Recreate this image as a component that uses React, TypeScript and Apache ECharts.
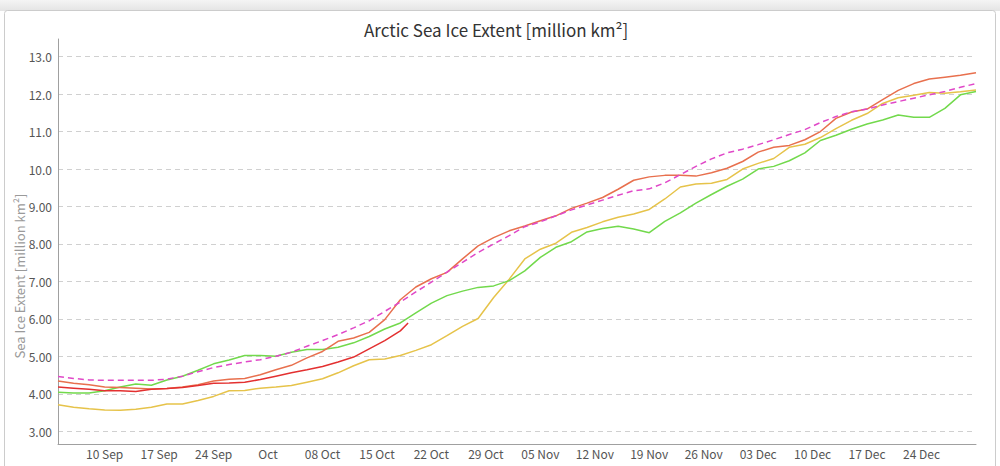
import React, { useEffect, useRef } from "react";
import * as echarts from "echarts";

// ---- axis categories (one per day, 04 Sep .. 31 Dec) ----
const MONTHS = ["Jan", "Feb", "Mar", "Apr", "May", "Jun", "Jul", "Aug", "Sep", "Oct", "Nov", "Dec"];
const START = Date.UTC(2019, 8, 4);
const days: string[] = [];
for (let i = 0; i <= 118; i++) {
  const d = new Date(START + i * 86400000);
  days.push(String(d.getUTCDate()).padStart(2, "0") + " " + MONTHS[d.getUTCMonth()]);
}
const xTickLabels = [
  "10 Sep", "17 Sep", "24 Sep", "01 Oct", "08 Oct", "15 Oct", "22 Oct", "29 Oct",
  "05 Nov", "12 Nov", "19 Nov", "26 Nov", "03 Dec", "10 Dec", "17 Dec", "24 Dec",
];
const yTicks = [3, 4, 5, 6, 7, 8, 9, 10, 11, 12, 13];

// sample dates: every second day
const sampleDays = days.filter((_, i) => i % 2 === 0);

// ---- series values (million km²), read at sampleDays ----
const average = [
  4.46, 4.41, 4.37, 4.36, 4.36, 4.36, 4.36, 4.39, 4.47, 4.59, 4.70, 4.78, 4.85,
  4.91, 5.00, 5.11, 5.27, 5.42, 5.58, 5.76, 5.95, 6.20, 6.45, 6.72, 6.98, 7.25,
  7.51, 7.77, 8.00, 8.22, 8.46, 8.59, 8.75, 8.91, 9.04, 9.17, 9.30, 9.42, 9.47,
  9.63, 9.85, 10.07, 10.27, 10.43, 10.53, 10.65, 10.78, 10.92, 11.05, 11.24, 11.40,
  11.53, 11.60, 11.71, 11.80, 11.89, 11.98, 12.07, 12.18, 12.28,
];
const yearOrange = [
  4.34, 4.28, 4.24, 4.18, 4.17, 4.15, 4.13, 4.14, 4.18, 4.24, 4.34, 4.39, 4.41,
  4.51, 4.64, 4.76, 4.96, 5.13, 5.40, 5.49, 5.64, 5.98, 6.51, 6.85, 7.07, 7.24,
  7.60, 7.95, 8.17, 8.35, 8.48, 8.62, 8.75, 8.95, 9.09, 9.24, 9.46, 9.70, 9.79,
  9.83, 9.83, 9.81, 9.90, 10.02, 10.20, 10.45, 10.58, 10.63, 10.78, 11.00, 11.35,
  11.52, 11.60, 11.85, 12.10, 12.28, 12.40, 12.45, 12.50, 12.57,
];
const yearGreen = [
  4.04, 4.02, 4.02, 4.08, 4.18, 4.26, 4.23, 4.37, 4.47, 4.63, 4.80, 4.90, 5.02,
  5.02, 5.00, 5.11, 5.18, 5.18, 5.24, 5.36, 5.53, 5.73, 5.89, 6.16, 6.42, 6.62,
  6.74, 6.84, 6.88, 7.02, 7.28, 7.64, 7.91, 8.06, 8.32, 8.41, 8.47, 8.40, 8.30,
  8.60, 8.83, 9.09, 9.32, 9.54, 9.73, 10.00, 10.07, 10.22, 10.43, 10.76, 10.90,
  11.06, 11.20, 11.31, 11.44, 11.38, 11.38, 11.62, 11.98, 12.07,
];
const yearYellow = [
  3.71, 3.64, 3.60, 3.57, 3.56, 3.59, 3.64, 3.73, 3.73, 3.82, 3.93, 4.08, 4.09,
  4.15, 4.18, 4.22, 4.31, 4.40, 4.56, 4.75, 4.91, 4.93, 5.02, 5.16, 5.31, 5.55,
  5.80, 6.01, 6.57, 7.06, 7.60, 7.86, 8.02, 8.31, 8.44, 8.59, 8.71, 8.80, 8.92,
  9.20, 9.52, 9.60, 9.62, 9.72, 10.00, 10.15, 10.28, 10.58, 10.66, 10.84, 11.08,
  11.30, 11.48, 11.75, 11.90, 11.97, 12.04, 12.02, 12.06, 12.11,
];
// current year: ends 19 Oct
const currentDays = sampleDays.slice(0, 23).concat([days[45]]);
const current = [
  4.18, 4.15, 4.12, 4.08, 4.08, 4.06, 4.12, 4.14, 4.17, 4.22, 4.28, 4.29, 4.31,
  4.38, 4.47, 4.56, 4.64, 4.73, 4.85, 4.98, 5.20, 5.42, 5.68, 5.89,
];

const pairs = (xs: string[], vs: number[]) => vs.map((v, i) => [xs[i], v]);
const FONT = "'Noto Sans CJK JP', 'Noto Sans', sans-serif";

export default function App() {
  const ref = useRef<HTMLDivElement>(null);
  useEffect(() => {
    if (!ref.current) return;
    const chart = echarts.init(ref.current, undefined, { renderer: "svg" });
    const line = (name: string, color: string, data: any[], dashed = false) => ({
      name,
      type: "line",
      data,
      symbol: "none",
      smooth: false,
      lineStyle: { color, width: 1.5, type: dashed ? [6, 4] : "solid" },
      itemStyle: { color },
      silent: true,
    });
    chart.setOption({
      animation: false,
      backgroundColor: "#ffffff",
      textStyle: { fontFamily: FONT },
      title: {
        text: "Arctic Sea Ice Extent [million km²]",
        left: 359,
        top: 16,
        textStyle: { fontFamily: FONT, fontSize: 17, fontWeight: "normal", color: "#333333" },
      },
      graphic: [
        {
          type: "rect",
          z: -10,
          silent: true,
          shape: { x: 0, y: 0, width: 1000, height: 11 },
          style: {
            fill: {
              type: "linear", x: 0, y: 0, x2: 0, y2: 1,
              colorStops: [{ offset: 0, color: "#f4f4f4" }, { offset: 1, color: "#e4e4e4" }],
            },
          },
        },
        {
          type: "rect",
          z: -10,
          silent: true,
          shape: { x: 4.5, y: 10.5, width: 991, height: 470, r: 3 },
          style: { fill: "transparent", stroke: "#cccccc", lineWidth: 1 },
        },
        {
          type: "text",
          silent: true,
          x: 19,
          y: 276,
          rotation: Math.PI / 2,
          style: {
            text: "Sea Ice Extent [million km²]",
            fontFamily: FONT,
            fontSize: 13,
            fill: "#9a9a9a",
            align: "center",
            verticalAlign: "middle",
          },
        },
      ],
      grid: { left: 58, right: 24, top: 39, bottom: 22, containLabel: false },
      xAxis: {
        type: "category",
        data: days,
        boundaryGap: false,
        axisLine: { show: true, lineStyle: { color: "#a0a0a0", width: 1 } },
        axisTick: { show: false },
        splitLine: { show: false },
        axisLabel: {
          interval: (_i: number, v: string) => xTickLabels.includes(v),
          formatter: (v: string) => (v === "01 Oct" ? "Oct" : v),
          color: "#555555",
          fontSize: 12,
          fontFamily: FONT,
          margin: 3,
        },
      },
      yAxis: {
        type: "value",
        min: 2.66,
        max: 13.47,
        splitNumber: 10,
        minInterval: 1,
        maxInterval: 1,
        axisLine: { show: true, lineStyle: { color: "#a0a0a0", width: 1 } },
        axisTick: { show: false },
        splitLine: {
          show: true,
          showMinLine: false,
          showMaxLine: false,
          lineStyle: { color: "#d0d0d0", type: [5, 4], width: 1 },
        },
        axisLabel: {
          showMinLabel: false,
          showMaxLabel: false,
          color: "#555555",
          fontSize: 12,
          fontFamily: FONT,
          margin: 6,
          formatter: (v: number) =>
            yTicks.includes(Math.round(v * 100) / 100) ? (v >= 10 ? v.toFixed(1) : v.toFixed(2)) : "",
        },
      },
      series: [
        line("Year (yellow)", "#e6c34a", pairs(sampleDays, yearYellow)),
        line("Year (green)", "#72d94c", pairs(sampleDays, yearGreen)),
        line("Year (orange)", "#e8704e", pairs(sampleDays, yearOrange)),
        line("Current", "#e33030", pairs(currentDays, current)),
        line("Average", "#e048c8", pairs(sampleDays, average), true),
      ],
    });
    return () => chart.dispose();
  }, []);
  return (
    <div
      ref={ref}
      style={{ position: "fixed", left: 0, top: 0, width: 1000, height: 466, background: "#fff" }}
    />
  );
}
